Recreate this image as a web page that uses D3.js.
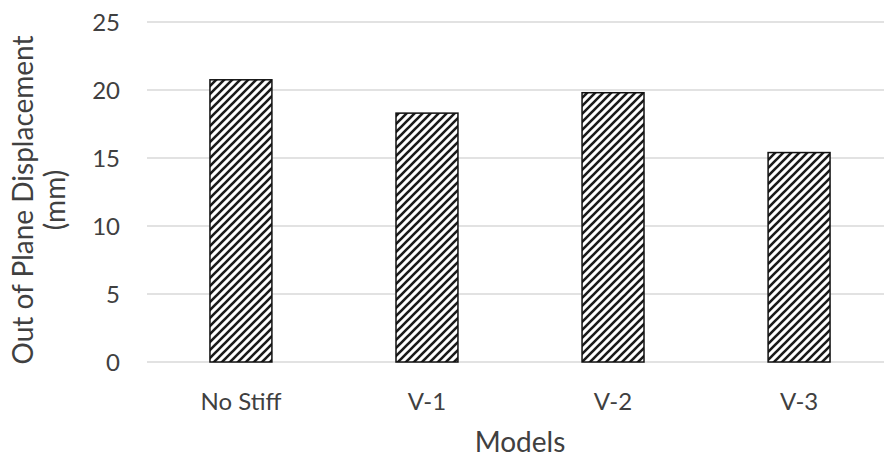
<!DOCTYPE html>
<html><head><meta charset="utf-8">
<script src="https://cdn.jsdelivr.net/npm/d3@7/dist/d3.min.js"></script>
<style>body{margin:0;background:#fff}svg{display:block}</style>
</head><body>
<script>
const categories = ["No Stiff", "V-1", "V-2", "V-3"];
const values = [20.75, 18.3, 19.8, 15.4];
const yTicks = [0, 5, 10, 15, 20, 25];
const yTitle1 = "Out of Plane Displacement";
const yTitle2 = "(mm)";
const xTitle = "Models";

const W = 884, H = 459;
const svg = d3.select("body").append("svg").attr("width", W).attr("height", H);
const font = "Lato, 'Open Sans', sans-serif";

const defs = svg.append("defs");
const P = 8;
const pat = defs.append("pattern").attr("id", "hatch").attr("patternUnits", "userSpaceOnUse")
  .attr("width", P).attr("height", P);
pat.append("rect").attr("width", P).attr("height", P).attr("fill", "#fff");
pat.append("path").attr("d", `M-2,2 l4,-4 M0,${P} l${P},-${P} M${P-2},${P+2} l4,-4`)
  .attr("stroke", "#1a1a1a").attr("stroke-width", 2.6);

const x = d3.scaleBand().domain(categories).range([148, 892]).paddingInner(0.667).paddingOuter(0.333);
const y = d3.scaleLinear().domain([0, 25]).range([362, 22]);

svg.append("g").selectAll("line").data(yTicks).join("line")
  .attr("x1", 147).attr("x2", W).attr("y1", d => y(d)).attr("y2", d => y(d))
  .attr("stroke", "#d9d9d9").attr("stroke-width", 1.3);

svg.append("g").selectAll("text").data(yTicks).join("text")
  .attr("x", 120).attr("y", d => y(d)).attr("dy", "0.36em")
  .attr("text-anchor", "end").attr("font-family", font).attr("font-size", 24)
  .attr("fill", "#404040").text(d => d);

svg.append("g").selectAll("rect").data(values).join("rect")
  .attr("x", (d, i) => x(categories[i])).attr("width", x.bandwidth())
  .attr("y", d => y(d)).attr("height", d => y(0) - y(d))
  .attr("fill", "url(#hatch)").attr("stroke", "#111").attr("stroke-width", 1.5);

svg.append("g").selectAll("text").data(categories).join("text")
  .attr("x", d => x(d) + x.bandwidth() / 2).attr("y", 410)
  .attr("text-anchor", "middle").attr("font-family", font).attr("font-size", 24)
  .attr("fill", "#404040").text(d => d);

svg.append("text").attr("x", 520).attr("y", 452).attr("text-anchor", "middle")
  .attr("font-family", font).attr("font-size", 28).attr("fill", "#404040").text(xTitle);
svg.append("text").attr("transform", "translate(33,200) rotate(-90)").attr("text-anchor", "middle")
  .attr("font-family", font).attr("font-size", 28).attr("fill", "#404040").text(yTitle1);
svg.append("text").attr("transform", "translate(65,200) rotate(-90)").attr("text-anchor", "middle")
  .attr("font-family", font).attr("font-size", 28).attr("fill", "#404040").text(yTitle2);
</script>
</body></html>
